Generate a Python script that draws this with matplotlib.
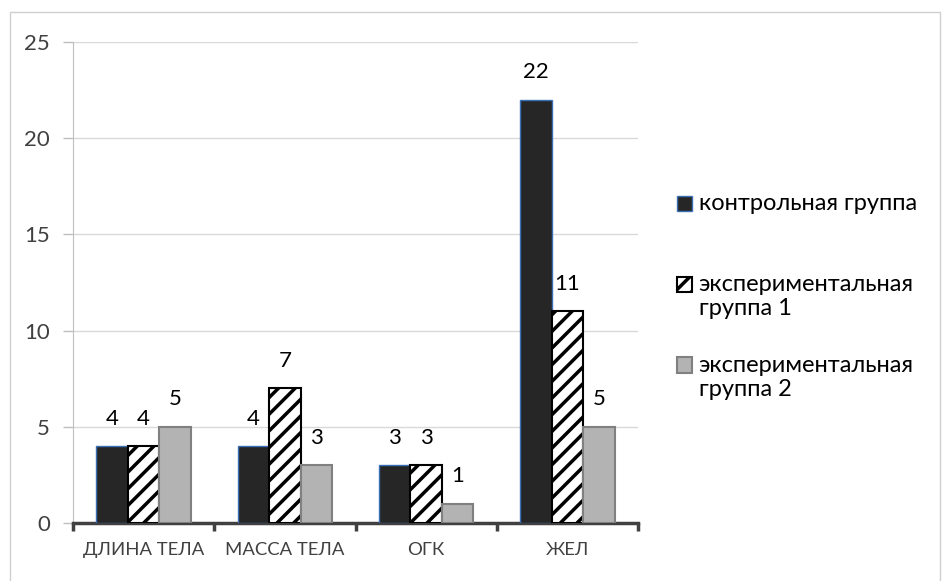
import matplotlib.pyplot as plt
import numpy as np
from matplotlib.patches import Rectangle
from matplotlib.legend_handler import HandlerPatch, update_from_first_child

plt.rcParams['font.family'] = ['Lato', 'DejaVu Sans']
plt.rcParams['hatch.linewidth'] = 2.5

categories = ["ДЛИНА ТЕЛА", "МАССА ТЕЛА", "ОГК", "ЖЕЛ"]
control = [4, 4, 3, 22]
exp1 = [4, 7, 3, 11]
exp2 = [5, 3, 1, 5]
series_names = ["контрольная группа\n",
                "экспериментальная\nгруппа 1",
                "экспериментальная\nгруппа 2"]


# legend marker sits on the first line of a two-line label
class FirstLineHandler(HandlerPatch):
    def __init__(self, shift, **kw):
        super().__init__(update_func=update_from_first_child, **kw)
        self.shift = shift

    def create_artists(self, legend, orig_handle, xdescent, ydescent,
                       width, height, fontsize, trans):
        return super().create_artists(legend, orig_handle, xdescent,
                                      ydescent - self.shift, width, height,
                                      fontsize, trans)


fig = plt.figure(figsize=(9.43, 5.81), dpi=100)
# outer chart border
fig.patches.append(Rectangle((10 / 943, -5 / 581), 930 / 943, 574 / 581,
                             transform=fig.transFigure, fill=False,
                             edgecolor='#d0d0d0', linewidth=1))
ax = fig.add_axes([0.0774, 0.0998, 0.5992, 0.8279])

x = np.arange(len(categories))
w = 0.223
b1 = ax.bar(x - w, control, w, color='#262626', edgecolor='#3a6fb5',
            linewidth=1, label=series_names[0], zorder=3)
b2 = ax.bar(x, exp1, w, color='white', edgecolor='black', hatch='//',
            linewidth=1.5, label=series_names[1], zorder=3)
b3 = ax.bar(x + w, exp2, w, color='#b3b3b3', edgecolor='#808080',
            linewidth=1.5, label=series_names[2], zorder=3)

for bars in (b1, b2, b3):
    ax.bar_label(bars, padding=12.5, fontsize=16, color='black')

ax.set_xlim(-0.5, len(categories) - 0.5)
ax.set_ylim(0, 25)
ax.set_yticks(range(0, 26, 5))
ax.yaxis.grid(True, color='#d9d9d9', linewidth=1, zorder=0)
ax.set_axisbelow(True)

ax.set_xticks(x)
ax.set_xticklabels(categories, fontsize=13.3, color='#404040')
ax.tick_params(axis='x', which='major', length=0, pad=14)
ax.set_xticks(np.arange(-0.5, len(categories)), minor=True)
ax.tick_params(axis='x', which='minor', length=6, width=2.5, color='#404040')
ax.tick_params(axis='y', length=7, width=1, color='#bfbfbf',
               labelsize=16, labelcolor='#404040', pad=9.5)

for s in ('top', 'right'):
    ax.spines[s].set_visible(False)
ax.spines['left'].set_color('#bfbfbf')
ax.spines['bottom'].set_color('#404040')
ax.spines['bottom'].set_linewidth(2.5)

h = FirstLineHandler(shift=9)
ax.legend(loc='upper left', bbox_to_anchor=(677 / 943, 1 - 193 / 581),
          bbox_transform=fig.transFigure, frameon=False,
          fontsize=17, handlelength=0.62, handleheight=0.62,
          handletextpad=0.3, labelspacing=1.5, borderaxespad=0,
          borderpad=0, handler_map={b1: h, b2: h, b3: h})

fig.savefig("out.png", dpi=100)
